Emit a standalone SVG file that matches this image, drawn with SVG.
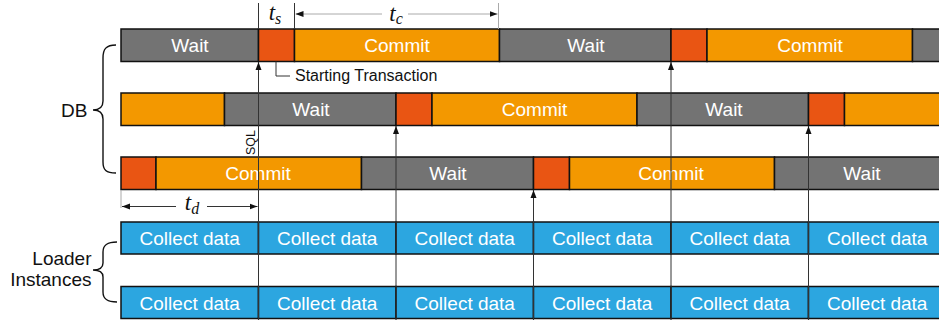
<svg xmlns="http://www.w3.org/2000/svg" width="939" height="325" viewBox="0 0 939 325">
<defs>
<style>
.seg{stroke:#111;stroke-width:1.5}
.wait{fill:#737373}
.commit{fill:#F39800}
.start{fill:#E95513}
.collect{fill:#2CA6E0}
.lbl{font-family:"Liberation Sans",Arial,sans-serif;font-size:19px;fill:#fff;text-anchor:middle}
.side{font-family:"Liberation Sans",Arial,sans-serif;font-size:19px;fill:#111;text-anchor:end}
.small{font-family:"Liberation Sans",Arial,sans-serif;fill:#111}
.math{font-family:"Liberation Serif","Times New Roman",serif;font-style:italic;font-size:23px;fill:#111;text-anchor:middle}
.vline{stroke:#333;stroke-width:1;fill:none}
.lite{stroke:#aaa;stroke-width:1;fill:none}
.brace{stroke:#111;stroke-width:1.4;fill:none}
</style>
<marker id="ah" viewBox="0 0 8 8" refX="8" refY="4" markerWidth="8" markerHeight="8" markerUnits="userSpaceOnUse" orient="auto">
<path d="M0,1 L8,4 L0,7 Z" fill="#111"/>
</marker>
</defs>

<g id="db-row1">
<g id="r1-wait1"><rect class="seg wait" x="121" y="29" width="137.5" height="32.5"/><text class="lbl" x="190" y="52">Wait</text></g>
<g id="r1-start1"><rect class="seg start" x="258.5" y="29" width="36" height="32.5"/></g>
<g id="r1-commit1"><rect class="seg commit" x="294.5" y="29" width="205" height="32.5"/><text class="lbl" x="397" y="52">Commit</text></g>
<g id="r1-wait2"><rect class="seg wait" x="499.5" y="29" width="171.5" height="32.5"/><text class="lbl" x="586" y="52">Wait</text></g>
<g id="r1-start2"><rect class="seg start" x="671" y="29" width="36" height="32.5"/></g>
<g id="r1-commit2"><rect class="seg commit" x="707" y="29" width="205.5" height="32.5"/><text class="lbl" x="810" y="52">Commit</text></g>
<g id="r1-wait3"><rect class="seg wait" x="912.5" y="29" width="40" height="32.5"/></g>
</g>

<g id="db-row2">
<g id="r2-commit0"><rect class="seg commit" x="121" y="93" width="103.5" height="32.5"/></g>
<g id="r2-wait1"><rect class="seg wait" x="224.5" y="93" width="171.5" height="32.5"/><text class="lbl" x="311" y="116.3">Wait</text></g>
<g id="r2-start1"><rect class="seg start" x="396" y="93" width="36" height="32.5"/></g>
<g id="r2-commit1"><rect class="seg commit" x="432" y="93" width="205" height="32.5"/><text class="lbl" x="534.5" y="116.3">Commit</text></g>
<g id="r2-wait2"><rect class="seg wait" x="637" y="93" width="171.5" height="32.5"/><text class="lbl" x="724" y="116.3">Wait</text></g>
<g id="r2-start2"><rect class="seg start" x="808.5" y="93" width="36" height="32.5"/></g>
<g id="r2-commit2"><rect class="seg commit" x="844.5" y="93" width="108" height="32.5"/></g>
</g>

<g id="db-row3">
<g id="r3-start1"><rect class="seg start" x="121" y="157" width="35" height="32.5"/></g>
<g id="r3-commit1"><rect class="seg commit" x="156" y="157" width="205.5" height="32.5"/><text class="lbl" x="258" y="180.3">Commit</text></g>
<g id="r3-wait1"><rect class="seg wait" x="361.5" y="157" width="172" height="32.5"/><text class="lbl" x="448" y="180.3">Wait</text></g>
<g id="r3-start2"><rect class="seg start" x="533.5" y="157" width="36" height="32.5"/></g>
<g id="r3-commit2"><rect class="seg commit" x="569.5" y="157" width="205" height="32.5"/><text class="lbl" x="671" y="180.3">Commit</text></g>
<g id="r3-wait2"><rect class="seg wait" x="774.5" y="157" width="178" height="32.5"/><text class="lbl" x="862" y="180.3">Wait</text></g>
</g>

<g id="loader1">
<g id="l1-c1"><rect class="seg collect" x="121" y="222" width="137.5" height="32"/><text class="lbl" x="189.75" y="245">Collect data</text></g>
<g id="l1-c2"><rect class="seg collect" x="258.5" y="222" width="137.5" height="32"/><text class="lbl" x="327.25" y="245">Collect data</text></g>
<g id="l1-c3"><rect class="seg collect" x="396" y="222" width="137.5" height="32"/><text class="lbl" x="464.75" y="245">Collect data</text></g>
<g id="l1-c4"><rect class="seg collect" x="533.5" y="222" width="137.5" height="32"/><text class="lbl" x="602.25" y="245">Collect data</text></g>
<g id="l1-c5"><rect class="seg collect" x="671" y="222" width="137.5" height="32"/><text class="lbl" x="739.75" y="245">Collect data</text></g>
<g id="l1-c6"><rect class="seg collect" x="808.5" y="222" width="144" height="32"/><text class="lbl" x="877.25" y="245">Collect data</text></g>
</g>

<g id="loader2">
<g id="l2-c1"><rect class="seg collect" x="121" y="286.5" width="137.5" height="32"/><text class="lbl" x="189.75" y="309.5">Collect data</text></g>
<g id="l2-c2"><rect class="seg collect" x="258.5" y="286.5" width="137.5" height="32"/><text class="lbl" x="327.25" y="309.5">Collect data</text></g>
<g id="l2-c3"><rect class="seg collect" x="396" y="286.5" width="137.5" height="32"/><text class="lbl" x="464.75" y="309.5">Collect data</text></g>
<g id="l2-c4"><rect class="seg collect" x="533.5" y="286.5" width="137.5" height="32"/><text class="lbl" x="602.25" y="309.5">Collect data</text></g>
<g id="l2-c5"><rect class="seg collect" x="671" y="286.5" width="137.5" height="32"/><text class="lbl" x="739.75" y="309.5">Collect data</text></g>
<g id="l2-c6"><rect class="seg collect" x="808.5" y="286.5" width="144" height="32"/><text class="lbl" x="877.25" y="309.5">Collect data</text></g>
</g>

<g id="label-db">
<text class="side" x="87.5" y="116.5">DB</text>
<path class="brace" d="M116,45 C106,45 103,49 103,58 L103,101 C103,107 99,110 93,110 C99,110 103,113 103,119 L103,162 C103,170 106,173 116,173"/>
</g>
<g id="label-loader">
<text class="side" x="91.5" y="265">Loader</text>
<text class="side" x="91.5" y="286">Instances</text>
<path class="brace" d="M117,242 C107,242 103,245 103,252 L103,263 C103,268 99,270 93,270 C99,270 103,272 103,277 L103,292 C103,299 107,302 117,302"/>
</g>

<g id="connectors">
<line class="vline" x1="258.5" y1="3" x2="258.5" y2="29"/>
<line class="vline" x1="294.5" y1="3" x2="294.5" y2="29"/>
<line class="lite" x1="498.5" y1="3" x2="498.5" y2="29"/>
<line class="vline" x1="258.5" y1="320" x2="258.5" y2="62" marker-end="url(#ah)"/>
<line class="vline" x1="396" y1="320" x2="396" y2="126" marker-end="url(#ah)"/>
<line class="vline" x1="533.5" y1="320" x2="533.5" y2="190" marker-end="url(#ah)"/>
<line class="vline" x1="671" y1="320" x2="671" y2="62" marker-end="url(#ah)"/>
<line class="vline" x1="808.5" y1="320" x2="808.5" y2="126" marker-end="url(#ah)"/>
<line class="lite" x1="121" y1="190" x2="121" y2="208"/>
<line class="lite" x1="382" y1="14" x2="295.5" y2="14" marker-end="url(#ah)"/>
<line class="lite" x1="408" y1="14" x2="497.5" y2="14" marker-end="url(#ah)"/>
<line class="vline" x1="176" y1="206.5" x2="122" y2="206.5" marker-end="url(#ah)"/>
<line class="vline" x1="207" y1="206.5" x2="257.5" y2="206.5" marker-end="url(#ah)"/>
<path class="vline" d="M276,61.5 V76 H290" stroke="#111" stroke-width="1.2"/>
</g>

<g id="annotations">
<text class="math" x="275" y="20">t<tspan font-size="16" dy="4">s</tspan></text>
<text class="math" x="396" y="21">t<tspan font-size="16" dy="3">c</tspan></text>
<text class="math" x="192" y="210">t<tspan font-size="16" dy="4">d</tspan></text>
<text class="small" x="295" y="81" font-size="16">Starting Transaction</text>
<text class="small" font-size="12.5" text-anchor="middle" transform="translate(255,142.5) rotate(-90)">SQL</text>
</g>
</svg>
